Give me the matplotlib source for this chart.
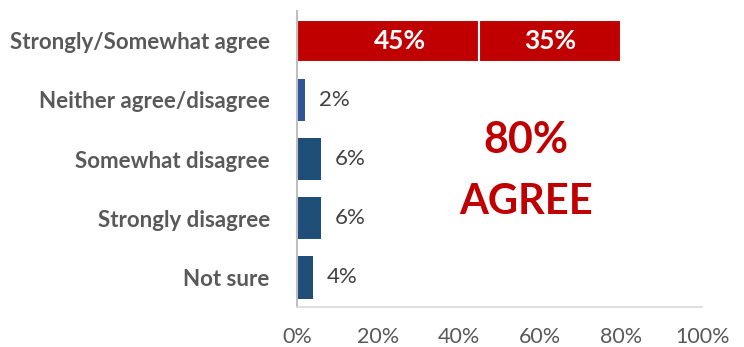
import matplotlib.pyplot as plt
from matplotlib.ticker import PercentFormatter

plt.rcParams['font.family'] = ['Lato', 'DejaVu Sans']

categories = ["Strongly/Somewhat agree", "Neither agree/disagree",
              "Somewhat disagree", "Strongly disagree", "Not sure"]
strongly_agree = 45
somewhat_agree = 35
other_values = [2, 6, 6, 4]
other_colors = ["#2F5597", "#1F4E79", "#1F4E79", "#1F4E79"]
total_agree = strongly_agree + somewhat_agree

fig = plt.figure(figsize=(7.44, 3.47), dpi=100)
ax = fig.add_axes([0.399, 0.115, 0.545, 0.853])

ypos = list(range(len(categories)))
h = 0.71

# stacked agree bar
ax.barh(ypos[0], strongly_agree, height=h, color="#C00000", edgecolor="white", linewidth=1.5)
ax.barh(ypos[0], somewhat_agree, left=strongly_agree, height=h, color="#C00000",
        edgecolor="white", linewidth=1.5)
ax.text(strongly_agree / 2 + 3, ypos[0], f"{strongly_agree}%", ha="center", va="center",
        color="white", fontsize=19, fontweight="bold")
ax.text(strongly_agree + somewhat_agree / 2, ypos[0], f"{somewhat_agree}%", ha="center",
        va="center", color="white", fontsize=19, fontweight="bold")

# remaining categories
for y, v, c in zip(ypos[1:], other_values, other_colors):
    ax.barh(y, v, height=h, color=c)
    ax.annotate(f"{v}%", (v, y), xytext=(10, 0), textcoords="offset points",
                ha="left", va="center", color="#404040", fontsize=16)

ax.text(56.5, 1.68, f"{total_agree}%", ha="center", va="center", color="#C00000",
        fontsize=31, fontweight="bold")
ax.text(56.5, 2.73, "AGREE", ha="center", va="center", color="#C00000",
        fontsize=30, fontweight="bold")

ax.set_xlim(0, 100)
ax.set_ylim(len(categories) - 0.5, -0.5)
ax.set_xticks(range(0, 101, 20))
ax.xaxis.set_major_formatter(PercentFormatter(decimals=0))
ax.set_yticks(ypos)
ax.set_yticklabels(categories, fontweight="bold")
ax.tick_params(axis="x", length=0, pad=14, labelsize=15.5, labelcolor="#595959")
ax.tick_params(axis="y", length=0, pad=19.5, labelsize=16, labelcolor="#595959")

for s in ["top", "right"]:
    ax.spines[s].set_visible(False)
ax.spines["left"].set_color("#BFBFBF")
ax.spines["bottom"].set_color("#D9D9D9")
ax.spines["left"].set_linewidth(1.5)
ax.spines["bottom"].set_linewidth(1.2)

fig.savefig("out.png", dpi=100)
